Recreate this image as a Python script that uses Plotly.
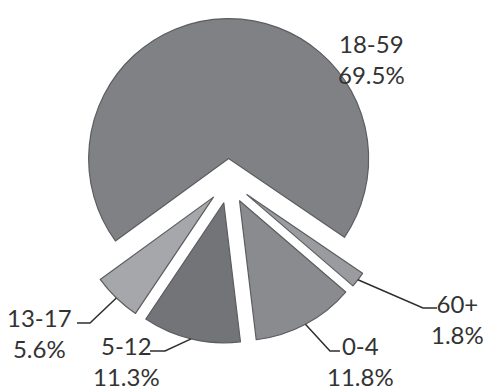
import math
import plotly.graph_objects as go

# ---- data ----
labels = ["18-59", "60+", "0-4", "5-12", "13-17"]
values = [69.5, 1.8, 11.8, 11.3, 5.6]
pct_text = ["69.5%", "1.8%", "11.8%", "11.3%", "5.6%"]
colors = ["#808185", "#9a9b9f", "#8a8b8f", "#737478", "#a6a7ab"]

# ---- layout geometry (pixels) ----
W, H = 485, 391
CX, CY, R = 229, 181, 140
PULL = 0.16
START = 234  # degrees clockwise from 12 o'clock where first slice starts

box = 2 * R * (1 + PULL)
dom_x = [(CX - box / 2) / W, (CX + box / 2) / W]
dom_y = [1 - (CY + box / 2) / H, 1 - (CY - box / 2) / H]

fig = go.Figure(go.Pie(
    labels=labels, values=values, sort=False, direction="clockwise",
    rotation=START - 360, pull=[PULL] * len(values),
    marker=dict(colors=colors, line=dict(color="#5c5d60", width=1.2)),
    textinfo="none", hoverinfo="label+percent", showlegend=False,
    domain=dict(x=dom_x, y=dom_y),
))

# label block centres and leader elbows (pixels)
label_pos = {
    "18-59": (371, 59),
    "60+": (457, 319),
    "0-4": (360, 361),
    "5-12": (126, 361),
    "13-17": (39, 333),
}
leaders = {
    "60+": [(423, 308), (437, 308)],
    "0-4": [(330, 351), (340, 351)],
    "5-12": [(165, 351), (150, 351)],
    "13-17": [(90, 323), (77, 323)],
}

def px(x, y):
    return x / W, 1 - y / H

total = sum(values)
ang = START
shapes = []
annotations = []
for lab, v, pt in zip(labels, values, pct_text):
    span = 360 * v / total
    mid = math.radians(ang + span / 2)
    ang += span
    dx, dy = math.sin(mid), -math.cos(mid)
    ax, ay = CX + (R + PULL * R) * dx, CY + (R + PULL * R) * dy
    if lab in leaders:
        pts = [(ax, ay)] + leaders[lab]
        path = "M " + " L ".join(f"{px(x, y)[0]:.5f},{px(x, y)[1]:.5f}" for x, y in pts)
        shapes.append(dict(type="path", path=path, xref="paper", yref="paper",
                           line=dict(color="#2e2e2e", width=1.5)))
    lx, ly = label_pos[lab]
    qx, qy = px(lx, ly)
    annotations.append(dict(text=f"{lab}<br>{pt}", x=qx, y=qy, xref="paper", yref="paper",
                            showarrow=False, xanchor="center", yanchor="middle",
                            font=dict(family="Lato", size=24, color="#333333")))

fig.update_layout(
    width=W, height=H, margin=dict(l=0, r=0, t=0, b=0),
    paper_bgcolor="white", plot_bgcolor="white",
    shapes=shapes, annotations=annotations,
)
fig.write_html("out.html", config={"displayModeBar": False},
               post_script="document.body.style.margin='0';document.body.style.overflow='hidden';")
